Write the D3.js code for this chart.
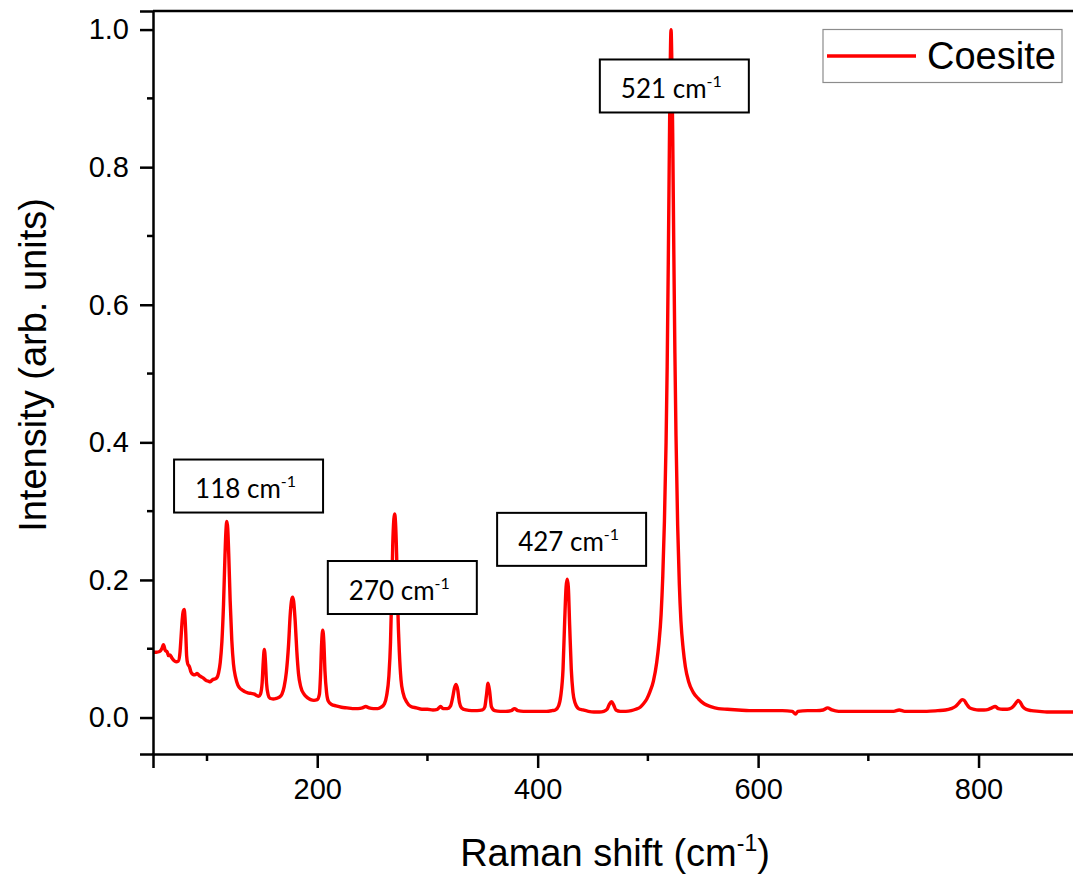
<!DOCTYPE html>
<html>
<head>
<meta charset="utf-8">
<script src="https://cdn.jsdelivr.net/npm/d3@7"></script>
<style>
  html, body { margin: 0; padding: 0; background: #fff; }
  svg { display: block; }
</style>
</head>
<body>
<svg id="chart" width="1073" height="877"></svg>
<script>
// ---------------- data ----------------
const seriesName = "Coesite";
const shift = [
  51, 54, 57, 59, 60.5, 62, 64, 65, 66.5, 68, 70, 72, 74, 75.5, 76.5, 77.5, 78.5, 79.3, 80, 80.8,
  81.5, 82.5, 84, 85.5, 87, 89, 91, 93, 95, 97, 99, 101, 103, 105, 107, 109, 110.5,
  112, 113.5, 115, 116.3, 117.2, 118, 118.8, 119.7, 121, 122.5, 124, 126, 128, 131, 134, 137, 140, 143, 145, 147,
  148.5, 150, 151, 152, 153, 154, 155.5, 157, 160, 163, 166, 168, 170, 172, 174, 175.5, 176.8, 177.7, 178.6,
  180, 181.5, 183, 185, 188, 191, 194, 197, 200, 202, 203, 204, 205, 206, 207, 208.5, 210, 213, 217, 222,
  227, 232, 237, 241, 244, 247, 251, 255, 258, 261, 263, 265, 266.5, 267.5, 268.5, 269.5, 270.2, 271, 272,
  273, 274.5, 276, 278, 281, 285, 290, 295, 300, 305, 309, 312, 314, 318, 321, 323, 324.5, 326, 327.5, 329,
  331, 335, 340, 345, 350, 352, 353.5, 355, 356.5, 358, 361, 366, 371, 376, 379, 382, 387, 393, 398, 403,
  408, 413, 416, 419, 421, 423, 424.5, 425.8, 426.8, 427.8, 429, 430.5, 432, 434, 437, 441, 446, 451, 456,
  460, 463, 465, 467, 469, 471, 475, 480, 485, 489, 493, 496, 499, 502, 505, 508, 510, 512, 513.5, 515,
  516.5, 517.5, 518.5, 519.5, 520.3, 521, 521.7, 522.5, 523.5, 524.5, 525.5, 527, 528.5, 530, 532, 534, 537,
  541, 546, 551, 557, 564, 572, 582, 592, 602, 612, 622, 631, 634, 636, 645, 653, 659, 663, 667, 673, 683,
  693, 703, 713, 723, 728, 733, 743, 753, 763, 770, 775, 779, 782, 785, 787, 789, 792, 796, 800, 805, 809,
  812, 815, 818, 822, 826, 830, 833, 836, 838, 840, 843, 848, 855, 862, 870, 878, 886, 895
];
const intensity = [
  0.095, 0.095, 0.096, 0.100, 0.106, 0.098, 0.095, 0.090, 0.091, 0.087, 0.083, 0.081, 0.082, 0.095, 0.118, 0.142, 0.155, 0.157, 0.146, 0.120,
  0.090, 0.078, 0.074, 0.066, 0.063, 0.062, 0.064, 0.061, 0.059, 0.057, 0.054, 0.053, 0.052, 0.055, 0.056, 0.058, 0.065,
  0.080, 0.110, 0.165, 0.235, 0.272, 0.285, 0.275, 0.238, 0.170, 0.112, 0.078, 0.058, 0.047, 0.041, 0.038, 0.036, 0.035, 0.034, 0.032, 0.031,
  0.034, 0.050, 0.080, 0.099, 0.082, 0.050, 0.033, 0.028, 0.027, 0.028, 0.030, 0.034, 0.045, 0.066, 0.106, 0.150, 0.171, 0.175, 0.169,
  0.140, 0.096, 0.064, 0.045, 0.034, 0.029, 0.026, 0.025, 0.026, 0.034, 0.062, 0.108, 0.127, 0.110, 0.068, 0.036, 0.024, 0.019, 0.017, 0.015,
  0.014, 0.013, 0.013, 0.014, 0.016, 0.014, 0.013, 0.013, 0.015, 0.020, 0.032, 0.060, 0.110, 0.175, 0.250, 0.288, 0.296, 0.284, 0.238,
  0.165, 0.095, 0.055, 0.035, 0.023, 0.016, 0.014, 0.012, 0.012, 0.011, 0.012, 0.016, 0.013, 0.013, 0.017, 0.030, 0.043, 0.048, 0.040, 0.022,
  0.014, 0.011, 0.010, 0.010, 0.011, 0.015, 0.032, 0.050, 0.037, 0.016, 0.010, 0.009, 0.009, 0.010, 0.013, 0.010, 0.009, 0.009, 0.009, 0.009,
  0.009, 0.010, 0.011, 0.017, 0.032, 0.070, 0.140, 0.190, 0.201, 0.190, 0.135, 0.070, 0.037, 0.021, 0.013, 0.011, 0.009, 0.008, 0.008,
  0.009, 0.012, 0.019, 0.023, 0.018, 0.011, 0.009, 0.009, 0.010, 0.012, 0.015, 0.020, 0.027, 0.038, 0.053, 0.080, 0.108, 0.150, 0.205, 0.285,
  0.400, 0.510, 0.660, 0.830, 0.950, 1.000, 0.955, 0.850, 0.680, 0.530, 0.410, 0.280, 0.195, 0.140, 0.100, 0.074, 0.052,
  0.037, 0.027, 0.020, 0.016, 0.013, 0.012, 0.011, 0.010, 0.010, 0.010, 0.010, 0.009, 0.005, 0.009, 0.010, 0.010, 0.011, 0.014, 0.011, 0.009, 0.009,
  0.009, 0.009, 0.009, 0.009, 0.011, 0.009, 0.009, 0.009, 0.010, 0.011, 0.013, 0.016, 0.021, 0.026, 0.025, 0.020, 0.014, 0.012, 0.011, 0.011, 0.012,
  0.014, 0.016, 0.013, 0.012, 0.012, 0.014, 0.019, 0.025, 0.022, 0.016, 0.012, 0.010, 0.009, 0.008, 0.008, 0.008, 0.008, 0.009
];
const xTickValues = [200, 400, 600, 800];
const xMinorTicks = [100, 300, 500, 700];
const yTickValues = [0.0, 0.2, 0.4, 0.6, 0.8, 1.0];
const yMinorTicks = [0.1, 0.3, 0.5, 0.7, 0.9];
const peakLabels = ["118", "270", "427", "521"];
// annotation box centres, in data units (layout)
const peakBoxX = [137.7, 277.2, 430.8, 524.0];
const peakBoxY = [0.3365, 0.189, 0.259, 0.918];

// ---------------- layout ----------------
const svg = d3.select("#chart");
const plotLeft = 153, plotTop = 11, plotBottom = 754;
const x = d3.scaleLinear().domain([51, 900]).range([plotLeft, plotLeft + 849 * 1.1022]);
const y = d3.scaleLinear().domain([-0.053, 1.027]).range([plotBottom, plotTop]);
const axisFont = "'Liberation Sans', Arial, sans-serif";
const red = "#ff0000";

svg.append("defs").append("clipPath").attr("id", "plotclip")
  .append("rect").attr("x", plotLeft).attr("y", plotTop)
  .attr("width", x.range()[1] - plotLeft).attr("height", plotBottom - plotTop);

// series
const pts = shift.map((s, i) => [s, intensity[i]]);
svg.append("path")
  .attr("clip-path", "url(#plotclip)")
  .attr("d", d3.line().x(d => x(d[0])).y(d => y(d[1])).curve(d3.curveMonotoneX)(pts))
  .attr("fill", "none").attr("stroke", red).attr("stroke-width", 3.4).attr("stroke-linejoin", "round");

// frame (top and right)
svg.append("line").attr("x1", plotLeft).attr("x2", x.range()[1]).attr("y1", plotTop).attr("y2", plotTop)
  .attr("stroke", "#000").attr("stroke-width", 2.5);
svg.append("line").attr("x1", x.range()[1]).attr("x2", x.range()[1]).attr("y1", plotTop).attr("y2", plotBottom)
  .attr("stroke", "#000").attr("stroke-width", 2.5);

// x axis
const gx = svg.append("g").attr("transform", `translate(0,${plotBottom})`)
  .call(d3.axisBottom(x).tickValues(xTickValues).tickSize(14).tickPadding(10).tickFormat(d3.format("d")));
gx.append("g").selectAll("line").data(xMinorTicks).join("line")
  .attr("x1", d => x(d)).attr("x2", d => x(d)).attr("y1", 0).attr("y2", 7)
  .attr("stroke", "#000").attr("stroke-width", 2.5);

// y axis
const gy = svg.append("g").attr("transform", `translate(${plotLeft},0)`)
  .call(d3.axisLeft(y).tickValues(yTickValues).tickSize(13).tickPadding(11).tickFormat(d3.format(".1f")));
gy.append("g").selectAll("line").data(yMinorTicks).join("line")
  .attr("x1", 0).attr("x2", -6).attr("y1", d => y(d)).attr("y2", d => y(d))
  .attr("stroke", "#000").attr("stroke-width", 2.5);

[gx, gy].forEach(g => {
  g.select(".domain").attr("stroke", "#000").attr("stroke-width", 2.5);
  g.selectAll(".tick line").attr("stroke", "#000").attr("stroke-width", 2.5);
  g.selectAll(".tick text").attr("font-family", axisFont).attr("font-size", 29).attr("fill", "#000");
});

// axis titles
const xt = svg.append("text").attr("x", 615).attr("y", 866).attr("text-anchor", "middle")
  .attr("font-family", axisFont).attr("font-size", 38).attr("fill", "#000");
xt.append("tspan").text("Raman shift (cm");
xt.append("tspan").attr("font-size", 23).attr("dy", -15).text("-1");
xt.append("tspan").attr("dy", 15).text(")");

svg.append("text").attr("transform", "translate(46,365) rotate(-90)").attr("text-anchor", "middle")
  .attr("font-family", axisFont).attr("font-size", 38).attr("fill", "#000")
  .text("Intensity (arb. units)");

// legend
const lg = svg.append("g");
lg.append("rect").attr("x", 823).attr("y", 29.5).attr("width", 239).attr("height", 53)
  .attr("fill", "#fff").attr("stroke", "#8c8c8c").attr("stroke-width", 1.2);
lg.append("line").attr("x1", 827).attr("x2", 916).attr("y1", 56).attr("y2", 56)
  .attr("stroke", red).attr("stroke-width", 3.5);
lg.append("text").attr("x", 927).attr("y", 69).attr("font-family", axisFont)
  .attr("font-size", 38).attr("fill", "#000").text(seriesName);

// peak annotation boxes
const boxW = 149, boxH = 53;
peakLabels.forEach((lab, i) => {
  const cx = x(peakBoxX[i]), cy = y(peakBoxY[i]);
  const g = svg.append("g");
  g.append("rect").attr("x", cx - boxW / 2).attr("y", cy - boxH / 2).attr("width", boxW).attr("height", boxH)
    .attr("fill", "#fff").attr("stroke", "#000").attr("stroke-width", 2);
  const t = g.append("text").attr("x", cx - 3).attr("y", cy + 12).attr("text-anchor", "middle")
    .attr("font-family", "Lato, 'Open Sans', sans-serif").attr("font-size", 26).attr("fill", "#000");
  t.append("tspan").text(lab + " cm");
  t.append("tspan").attr("font-size", 16).attr("dy", -11).text("-1");
});
</script>
</body>
</html>
